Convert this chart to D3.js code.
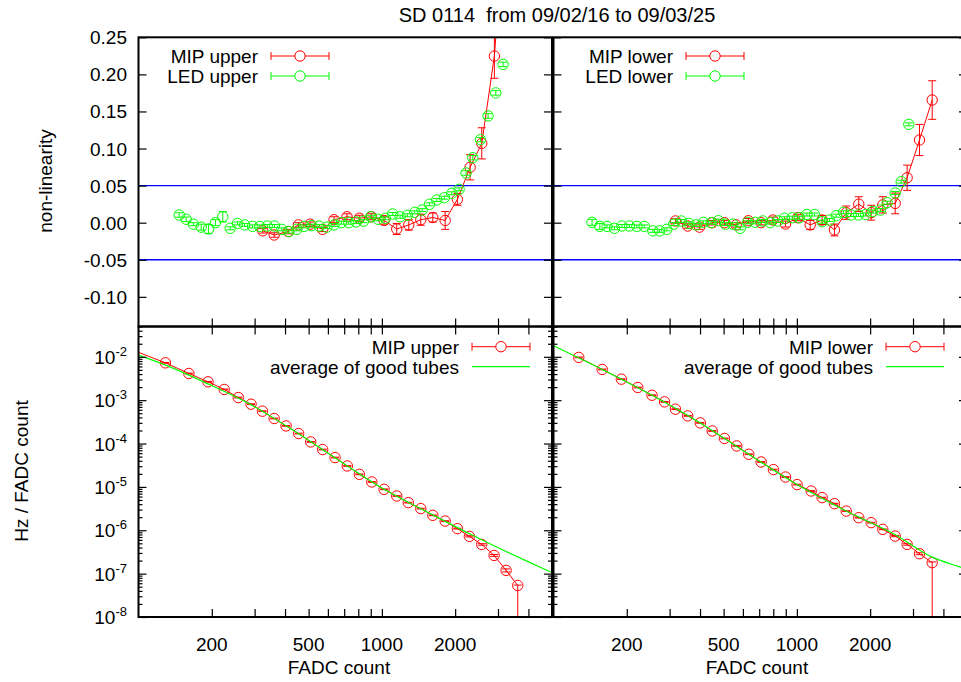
<!DOCTYPE html>
<html><head><meta charset="utf-8">
<script src="https://cdn.jsdelivr.net/npm/d3@7"></script>
<style>
body{margin:0;background:#fff}
text{font-family:"Liberation Sans",Arial,Helvetica,sans-serif;fill:#000}
</style></head>
<body><svg id="c" width="961" height="682"></svg>
<script>
// ---------- DATA ----------
const titleText = "SD 0114  from 09/02/16 to 09/03/25";
const topTicks = [0.25, 0.20, 0.15, 0.10, 0.05, 0.00, -0.05, -0.10];
const topTickLabels = ["0.25", "0.20", "0.15", "0.10", "0.05", "0.00", "-0.05", "-0.10"];
const botTicks = [1e-2, 1e-3, 1e-4, 1e-5, 1e-6, 1e-7, 1e-8];
const botTickExps = ["-2", "-3", "-4", "-5", "-6", "-7", "-8"];
const xMajor = [200, 500, 1000, 2000];
const xMajorLabels = ["200", "500", "1000", "2000"];
const xMinor = [300, 400, 600, 700, 800, 900, 3000, 4000];
const refLines = [0.05, -0.05];

// top-left : non-linearity, upper
const mipUpperX = [324,361,412,454,507,571,636,719,808,905,1021,1151,1290,1445,1619,1820,2043,2304,2573,2899,3260];
const mipUpperY = [-0.011,-0.0166,-0.012,-0.003,-0.002,-0.009,0.004,0.008,0.006,0.008,0.003,-0.0085,-0.003,0.004,0.007,0.003,0.0315,0.0747,0.107,0.2247,0.45];
const mipUpperE = [0.003,0.003,0.003,0.003,0.003,0.003,0.004,0.004,0.004,0.004,0.005,0.0075,0.007,0.0075,0.006,0.012,0.008,0.017,0.021,0.03,0.04];
const ledUpperX = [147,157,168,181,194,207,222,238,255,273,294,315,338,362,388,415,447,479,515,552,594,636,682,731,783,840,900,964,1033,1108,1188,1273,1365,1463,1568,1681,1806,1937,2076,2218,2363,2540,2731,2937,3148];
const ledUpperY = [0.0104,0.0046,-0.002,-0.006,-0.0085,0.0,0.008,-0.0076,-0.001,-0.003,-0.005,-0.005,-0.0045,-0.0045,-0.009,-0.012,-0.009,-0.005,-0.004,-0.0045,-0.006,-0.003,0.0,0.0,0.001,0.002,0.008,0.0046,0.006,0.0117,0.008,0.010,0.014,0.017,0.0248,0.0306,0.0337,0.0396,0.045,0.067,0.0876,0.112,0.144,0.175,0.2135];
const ledUpperE = [0.003,0.003,0.002,0.004,0.006,0.004,0.007,0.002,0.002,0.002,0.002,0.002,0.002,0.002,0.002,0.002,0.002,0.002,0.002,0.002,0.002,0.002,0.002,0.002,0.002,0.002,0.002,0.002,0.002,0.002,0.002,0.002,0.002,0.002,0.002,0.002,0.002,0.002,0.002,0.003,0.003,0.003,0.003,0.003,0.003];

// top-right : non-linearity, lower
const mipLowerX = [317,356,398,449,504,563,632,713,796,898,1009,1134,1270,1427,1595,1796,2019,2254,2535,2838,3190,3597];
const mipLowerY = [0.0023,-0.0045,-0.006,0.0,0.0,-0.003,0.0027,0.0,0.0036,-0.0018,0.0067,-0.003,0.0036,-0.0098,0.0135,0.025,0.0135,0.024,0.026,0.0606,0.1115,0.1654];
const mipLowerE = [0.003,0.003,0.003,0.003,0.003,0.003,0.003,0.003,0.004,0.004,0.004,0.006,0.006,0.008,0.009,0.01,0.01,0.011,0.014,0.017,0.021,0.026];
const ledLowerX = [144,155,166,178,191,205,220,236,256,273,292,312,335,360,385,413,444,476,509,546,585,628,674,724,777,835,889,957,1025,1099,1181,1270,1361,1451,1554,1671,1791,1914,2051,2206,2350,2535,2683,2884];
const ledLowerY = [0.0005,-0.005,-0.005,-0.0076,-0.0045,-0.0045,-0.005,-0.005,-0.011,-0.011,-0.009,-0.002,0.0023,-0.001,-0.003,0.0005,0.0,0.0027,-0.002,-0.002,-0.0076,0.0005,0.0005,0.0023,0.0,0.0023,0.006,0.0067,0.0067,0.011,0.011,0.0013,0.0036,0.0094,0.014,0.0104,0.0104,0.011,0.015,0.017,0.027,0.040,0.0553,0.1326];
const ledLowerE = [0.004,0.004,0.002,0.002,0.002,0.002,0.002,0.002,0.002,0.002,0.002,0.002,0.002,0.002,0.002,0.002,0.002,0.002,0.002,0.002,0.002,0.002,0.002,0.002,0.002,0.002,0.002,0.002,0.002,0.002,0.002,0.002,0.002,0.002,0.002,0.002,0.002,0.002,0.002,0.002,0.002,0.002,0.002,0.002];

// bottom-left : rate spectrum, upper (relative errors: low / high)
const rateUpperX = [80,129,161,193,225,257,290,323,361,404,455,510,571,642,721,808,909,1021,1151,1284,1445,1619,1820,2043,2288,2572,2891,3238,3616];
const rateUpperY = [2.07e-2,7.26e-3,4.13e-3,2.65e-3,1.77e-3,1.15e-3,8.09e-4,5.57e-4,3.78e-4,2.55e-4,1.70e-4,1.09e-4,7.27e-5,4.75e-5,3.04e-5,1.95e-5,1.30e-5,8.8e-6,6.17e-6,4.34e-6,3.16e-6,2.21e-6,1.63e-6,1.09e-6,7.24e-7,4.72e-7,2.63e-7,1.19e-7,5.33e-8];
const rateUpperLo = [0.02,0.02,0.02,0.02,0.02,0.02,0.02,0.02,0.02,0.02,0.02,0.02,0.02,0.02,0.02,0.02,0.02,0.02,0.02,0.02,0.02,0.02,0.02,0.02,0.03,0.04,0.05,0.08,1.0];
const rateUpperHi = [0.02,0.02,0.02,0.02,0.02,0.02,0.02,0.02,0.02,0.02,0.02,0.02,0.02,0.02,0.02,0.02,0.02,0.02,0.02,0.02,0.02,0.02,0.02,0.02,0.03,0.04,0.05,0.08,0.02];
const avgUpperX = [100,129,193,290,455,721,1021,1445,2043,2300,2572,2891,3238,4000,5000];
const avgUpperY = [1.09e-2,6.43e-3,2.38e-3,7.87e-4,1.68e-4,3.04e-5,8.8e-6,3.14e-6,1.15e-6,8.2e-7,6.05e-7,4.4e-7,3.25e-7,1.87e-7,1.06e-7];

// bottom-right : rate spectrum, lower
const rateLowerX = [127,158.5,190,222,254,286,317,356,401,449,504,566,634,713,801,898,1002,1145,1270,1427,1595,1796,2019,2254,2535,2838,3190,3597];
const rateLowerY = [9.69e-3,5.12e-3,3.05e-3,1.96e-3,1.30e-3,9.14e-4,6.20e-4,4.34e-4,2.99e-4,1.95e-4,1.31e-4,8.81e-5,5.66e-5,3.76e-5,2.51e-5,1.69e-5,1.13e-5,8.04e-6,5.66e-6,4.11e-6,2.77e-6,1.95e-6,1.50e-6,1.05e-6,7.35e-7,4.72e-7,2.88e-7,1.79e-7];
const rateLowerLo = [0.02,0.02,0.02,0.02,0.02,0.02,0.02,0.02,0.02,0.02,0.02,0.02,0.02,0.02,0.02,0.02,0.02,0.02,0.02,0.02,0.02,0.02,0.02,0.02,0.03,0.04,0.05,1.0];
const rateLowerHi = [0.02,0.02,0.02,0.02,0.02,0.02,0.02,0.02,0.02,0.02,0.02,0.02,0.02,0.02,0.02,0.02,0.02,0.02,0.02,0.02,0.02,0.02,0.02,0.02,0.03,0.04,0.05,0.04];
const avgLowerX = [100,158.5,254,401,634,1002,1595,2535,3597,4700,5000];
const avgLowerY = [1.8e-2,5.12e-3,1.30e-3,2.99e-4,5.66e-5,1.13e-5,2.77e-6,7.9e-7,2.40e-7,1.41e-7,1.25e-7];

// ---------- LAYOUT ----------
const svg = d3.select("#c");
const RED = "#ff0000", GREEN = "#00ff00", BLUE = "#0000ff";
const FS = 19;
const colL = [138.5, 552], colR = [553.5, 967];
const rowT = [37.3, 326.5], rowB = [326.5, 617];
const xDomain = [100, 5000];

const xL = d3.scaleLog().domain(xDomain).range(colL);
const xR = d3.scaleLog().domain(xDomain).range(colR);
const yT = d3.scaleLinear().domain([-0.14, 0.25]).range([rowT[1], rowT[0]]);
const yB = d3.scaleLog().domain([1e-8, 0.05]).range([rowB[1], rowB[0]]);

let clipId = 0;
function panel(col, row) {
  const id = "clip" + (clipId++);
  svg.append("clipPath").attr("id", id).append("rect")
    .attr("x", col[0]).attr("y", row[0]).attr("width", col[1] - col[0]).attr("height", row[1] - row[0]);
  const g = svg.append("g");
  const data = g.append("g").attr("clip-path", `url(#${id})`);
  return { g, data };
}

function styleAxis(sel) {
  sel.select(".domain").remove();
  sel.selectAll(".tick line").attr("stroke", "#000").attr("stroke-width", 1.2);
  sel.selectAll(".tick text").remove();
}

function xTicks(g, xs, yPix, dir) {
  g.append("g").attr("transform", `translate(0,${yPix})`)
    .call(d3.axisBottom(xs).tickValues(xMajor.concat(xMinor)).tickSize(dir * 8).tickFormat(""))
    .call(styleAxis);
}

// pts: {x, y, lo, hi}
function errSeries(layer, xs, ys, pts, color, logY, withLine) {
  if (withLine) layer.append("path").datum(pts)
    .attr("d", d3.line().x(d => xs(d.x)).y(d => ys(d.y)))
    .attr("fill", "none").attr("stroke", color).attr("stroke-width", 1);
  const g = layer.append("g").attr("stroke", color).attr("stroke-width", 1).attr("fill", "none");
  pts.forEach(p => {
    const cx = xs(p.x);
    const lo = logY ? Math.max(p.lo, 1e-12) : p.lo;
    const yl = ys(lo), yh = ys(p.hi);
    g.append("line").attr("x1", cx).attr("x2", cx).attr("y1", yl).attr("y2", yh);
    g.append("line").attr("x1", cx - 4).attr("x2", cx + 4).attr("y1", yl).attr("y2", yl);
    g.append("line").attr("x1", cx - 4).attr("x2", cx + 4).attr("y1", yh).attr("y2", yh);
    g.append("circle").attr("cx", cx).attr("cy", ys(p.y)).attr("r", 5.2);
  });
}
const absPts = (X, Y, E) => X.map((x, i) => ({ x, y: Y[i], lo: Y[i] - E[i], hi: Y[i] + E[i] }));
const relPts = (X, Y, L, H) => X.map((x, i) => ({ x, y: Y[i], lo: Y[i] * (1 - L[i]), hi: Y[i] * (1 + H[i]) }));

function lineSeries(layer, xs, ys, X, Y, color) {
  const pts = X.map((x, i) => ({ x, y: Y[i] }));
  layer.append("path").datum(pts)
    .attr("d", d3.line().curve(d3.curveMonotoneX).x(d => xs(d.x)).y(d => ys(d.y)))
    .attr("fill", "none").attr("stroke", color).attr("stroke-width", 1.2);
}

function legendErr(g, xEnd, y, label, color) {
  g.append("text").attr("x", xEnd).attr("y", y + 7).attr("text-anchor", "end")
    .attr("font-size", FS).text(label);
  const x1 = xEnd + 13, x2 = xEnd + 71, xm = (x1 + x2) / 2;
  const lg = g.append("g").attr("stroke", color).attr("fill", "none").attr("stroke-width", 1);
  lg.append("line").attr("x1", x1).attr("x2", x2).attr("y1", y).attr("y2", y);
  lg.append("line").attr("x1", x1).attr("x2", x1).attr("y1", y - 4).attr("y2", y + 4);
  lg.append("line").attr("x1", x2).attr("x2", x2).attr("y1", y - 4).attr("y2", y + 4);
  lg.append("circle").attr("cx", xm).attr("cy", y).attr("r", 5.2).attr("fill", "#fff");
}
function legendLine(g, xEnd, y, label, color) {
  g.append("text").attr("x", xEnd).attr("y", y + 7).attr("text-anchor", "end")
    .attr("font-size", FS).text(label);
  g.append("line").attr("x1", xEnd + 13).attr("x2", xEnd + 71).attr("y1", y).attr("y2", y)
    .attr("stroke", color).attr("stroke-width", 1.2);
}

// ---------- TOP PANELS ----------
[[xL, colL, "upper", mipUpperX, mipUpperY, mipUpperE, ledUpperX, ledUpperY, ledUpperE, 258],
 [xR, colR, "lower", mipLowerX, mipLowerY, mipLowerE, ledLowerX, ledLowerY, ledLowerE, 673]]
.forEach(([xs, col, name, mx, my, me, lx, ly, le, legX]) => {
  const p = panel(col, rowT);
  refLines.forEach(v => p.data.append("line")
    .attr("x1", col[0]).attr("x2", col[1]).attr("y1", yT(v)).attr("y2", yT(v))
    .attr("stroke", BLUE).attr("stroke-width", 1.3));
  errSeries(p.data, xs, yT, absPts(mx, my, me), RED, false, true);
  errSeries(p.data, xs, yT, absPts(lx, ly, le), GREEN, false, false);
  p.g.append("g").attr("transform", `translate(${col[0]},0)`)
    .call(d3.axisLeft(yT).tickValues(topTicks).tickSize(-8).tickFormat("")).call(styleAxis);
  p.g.append("g").attr("transform", `translate(${col[1]},0)`)
    .call(d3.axisRight(yT).tickValues(topTicks).tickSize(-8).tickFormat("")).call(styleAxis);
  xTicks(p.g, xs, rowT[1], -1);
  legendErr(p.g, legX, 56, "MIP " + name, RED);
  legendErr(p.g, legX, 76, "LED " + name, GREEN);
});

// ---------- BOTTOM PANELS ----------
const botMinor = [];
for (let e = -8; e <= -2; e++) for (let m = 2; m <= 9; m++) { const v = m * Math.pow(10, e); if (v <= 0.05) botMinor.push(v); }
[[xL, colL, "upper", rateUpperX, rateUpperY, rateUpperLo, rateUpperHi, avgUpperX, avgUpperY, 459],
 [xR, colR, "lower", rateLowerX, rateLowerY, rateLowerLo, rateLowerHi, avgLowerX, avgLowerY, 873]]
.forEach(([xs, col, name, rx, ry, rlo, rhi, ax, ay, legX]) => {
  const p = panel(col, rowB);
  errSeries(p.data, xs, yB, relPts(rx, ry, rlo, rhi), RED, true, true);
  lineSeries(p.data, xs, yB, ax, ay, GREEN);
  [[col[0], d3.axisLeft], [col[1], d3.axisRight]].forEach(([xp, ax2]) => {
    p.g.append("g").attr("transform", `translate(${xp},0)`)
      .call(ax2(yB).tickValues(botTicks).tickSize(-8).tickFormat("")).call(styleAxis);
    p.g.append("g").attr("transform", `translate(${xp},0)`)
      .call(ax2(yB).tickValues(botMinor).tickSize(-4).tickFormat("")).call(styleAxis);
  });
  xTicks(p.g, xs, rowB[1], -1);
  xTicks(p.g, xs, rowB[0], 1);
  legendErr(p.g, legX, 346.7, "MIP " + name, RED);
  legendLine(p.g, legX, 366.7, "average of good tubes", GREEN);
  xMajor.forEach((v, i) => svg.append("text").attr("x", xs(v)).attr("y", 651)
    .attr("text-anchor", "middle").attr("font-size", FS).text(xMajorLabels[i]));
});

// ---------- FRAMES ----------
[[colL, rowT], [colR, rowT], [colL, rowB], [colR, rowB]].forEach(([c, r]) =>
  svg.append("rect").attr("x", c[0]).attr("y", r[0]).attr("width", c[1] - c[0]).attr("height", r[1] - r[0])
    .attr("fill", "none").attr("stroke", "#000").attr("stroke-width", 2));

// ---------- AXIS LABELS ----------
topTicks.forEach((v, i) => svg.append("text").attr("x", 127).attr("y", yT(v) + 7)
  .attr("text-anchor", "end").attr("font-size", FS).text(topTickLabels[i]));
botTicks.forEach((v, i) => {
  const t = svg.append("text").attr("x", 127).attr("y", yB(v) + 7).attr("text-anchor", "end").attr("font-size", FS);
  t.append("tspan").text("10");
  t.append("tspan").attr("dy", -8).attr("font-size", 13).text(botTickExps[i]);
});
svg.append("text").attr("x", 339).attr("y", 674).attr("text-anchor", "middle").attr("font-size", FS).text("FADC count");
svg.append("text").attr("x", 757).attr("y", 674).attr("text-anchor", "middle").attr("font-size", FS).text("FADC count");
svg.append("text").attr("transform", "translate(52,181) rotate(-90)").attr("text-anchor", "middle").attr("font-size", FS).text("non-linearity");
svg.append("text").attr("transform", "translate(28,471) rotate(-90)").attr("text-anchor", "middle").attr("font-size", FS).text("Hz / FADC count");
svg.append("text").attr("x", 557).attr("y", 22).attr("text-anchor", "middle").attr("font-size", 20)
  .style("white-space", "pre").text(titleText);
</script></body></html>
